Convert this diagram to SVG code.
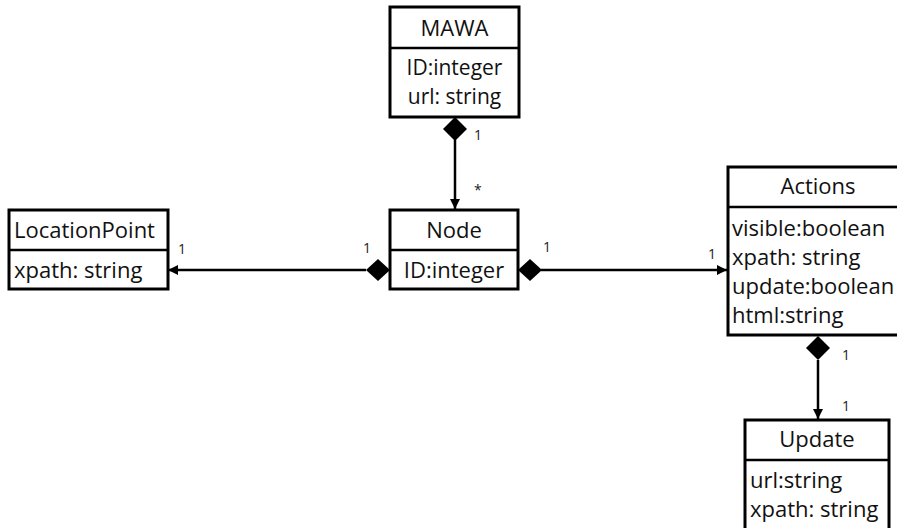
<svg xmlns="http://www.w3.org/2000/svg" width="897" height="528" viewBox="0 0 897 528">
<defs>
<style>
.box{fill:#fff;stroke:#000;stroke-width:3}
.div{stroke:#000;stroke-width:2.5}
.t{font-family:"Open Sans","Liberation Sans",sans-serif;font-size:22px;fill:#111}
.s{font-size:21px}
.c{text-anchor:middle}
.m{font-family:"Open Sans","Liberation Sans",sans-serif;font-size:14px;fill:#222}
.ln{stroke:#000;stroke-width:2.5;fill:none}
.dia{fill:#000}
</style>
<marker id="arr" viewBox="0 0 10 10" refX="10" refY="5" markerWidth="4" markerHeight="4" orient="auto" markerUnits="strokeWidth">
<path d="M0,0 L10,5 L0,10 z" fill="#000"/>
</marker>
</defs>
<rect width="897" height="528" fill="#fff"/>

<g id="connectors">
<line class="ln" x1="455" y1="140" x2="455" y2="209" marker-end="url(#arr)"/>
<polygon class="dia" points="455,117 467,129 455,141 443,129"/>
<line class="ln" x1="366" y1="270" x2="168" y2="270" marker-end="url(#arr)"/>
<polygon class="dia" points="390,270 378,259 366,270 378,281"/>
<line class="ln" x1="541" y1="270" x2="727" y2="270" marker-end="url(#arr)"/>
<polygon class="dia" points="518,270 530,259 542,270 530,281"/>
<line class="ln" x1="818" y1="360" x2="818" y2="419" marker-end="url(#arr)"/>
<polygon class="dia" points="818,336 830,348 818,360 806,348"/>
<text class="m" x="474" y="140">1</text>
<text class="m" x="474" y="195">*</text>
<text class="m" x="178" y="254">1</text>
<text class="m" x="363" y="253">1</text>
<text class="m" x="543" y="252">1</text>
<text class="m" x="708" y="259">1</text>
<text class="m" x="842" y="360">1</text>
<text class="m" x="842" y="411">1</text>
</g>

<g id="MAWA">
<rect class="box" x="390" y="7" width="129" height="110"/>
<line class="div" x1="390" y1="48" x2="519" y2="48"/>
<text class="t c" x="454.5" y="36">MAWA</text>
<text class="t s c" x="454.5" y="75">ID:integer</text>
<text class="t s c" x="454.5" y="104">url: string</text>
</g>

<g id="LocationPoint">
<rect class="box" x="9" y="210" width="159" height="79"/>
<line class="div" x1="9" y1="250" x2="168" y2="250"/>
<text class="t" x="14" y="238">LocationPoint</text>
<text class="t" x="14" y="278">xpath: string</text>
</g>

<g id="Node">
<rect class="box" x="390" y="210" width="128" height="79"/>
<line class="div" x1="390" y1="250" x2="518" y2="250"/>
<text class="t c" x="454" y="238">Node</text>
<text class="t c" x="454" y="278">ID:integer</text>
</g>

<g id="Actions">
<rect class="box" x="728" y="167" width="175" height="168"/>
<line class="div" x1="728" y1="207" x2="903" y2="207"/>
<text class="t c" x="818" y="194">Actions</text>
<text class="t" x="732" y="236">visible:boolean</text>
<text class="t" x="732" y="265">xpath: string</text>
<text class="t" x="732" y="294">update:boolean</text>
<text class="t" x="732" y="323">html:string</text>
</g>

<g id="Update">
<rect class="box" x="745" y="420" width="144" height="120"/>
<line class="div" x1="745" y1="460" x2="889" y2="460"/>
<text class="t c" x="817" y="447">Update</text>
<text class="t" x="750" y="488">url:string</text>
<text class="t" x="750" y="517">xpath: string</text>
</g>
</svg>
